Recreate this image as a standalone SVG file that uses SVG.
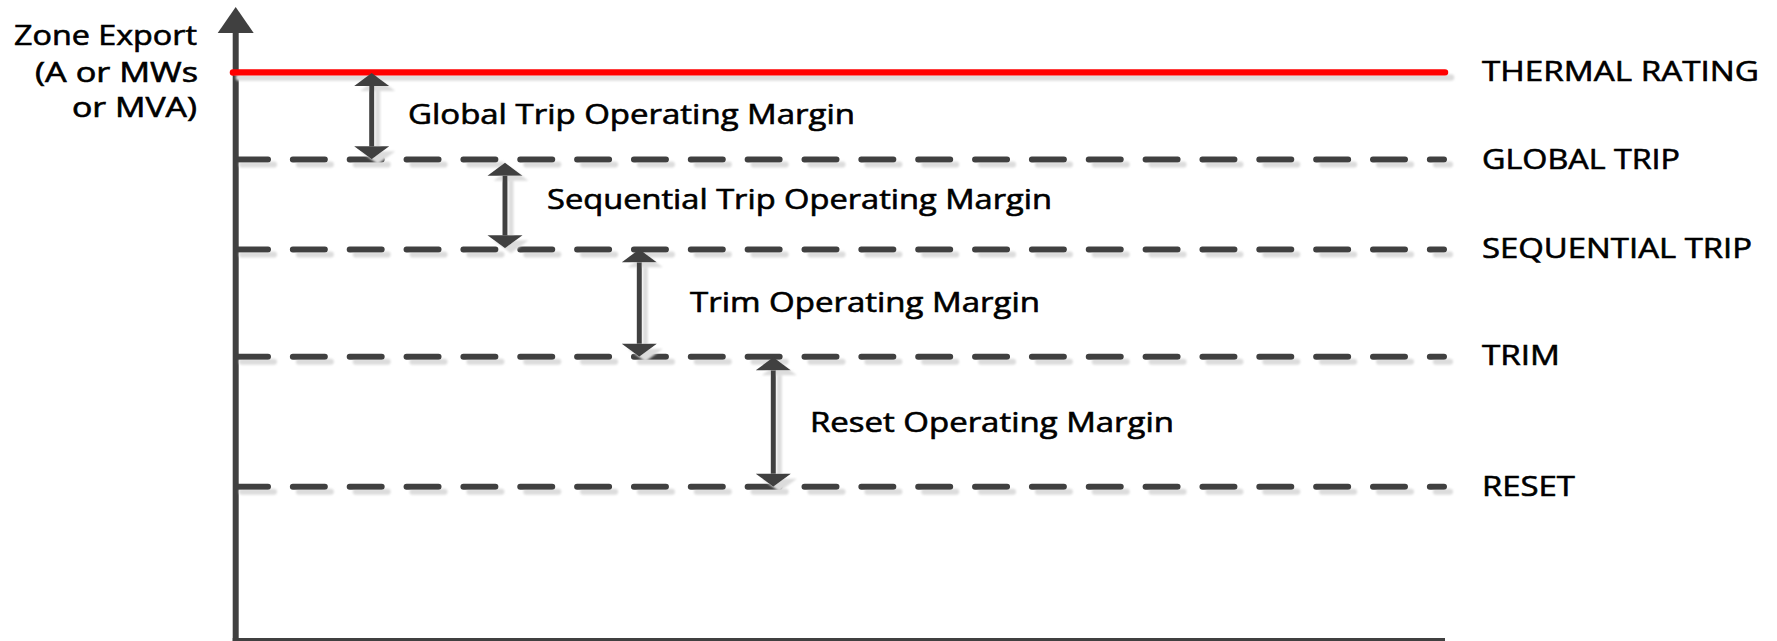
<svg xmlns="http://www.w3.org/2000/svg" width="1777" height="641" viewBox="0 0 1777 641">
  <style>
    .label { font-family: "Open Sans", "Liberation Sans", sans-serif; fill: #000; stroke: #000; stroke-width: 0.6; font-variant-ligatures: none; }
    .axis-label { font-size: 26.5px; }
    .margin-label { font-size: 26.5px; }
    .level-label { font-size: 28px; }
    .level { fill: none; stroke: #404040; stroke-width: 6; stroke-linecap: round; stroke-dasharray: 32 24.85; }
    .rating { fill: none; stroke: #ff0000; stroke-width: 6.5; stroke-linecap: round; }
    .margin { stroke: #404040; stroke-width: 5; marker-start: url(#head); marker-end: url(#head); }
    .axis { stroke: #404040; stroke-width: 6; }
  </style>
  <defs>
    <!-- soft grey drop shadow shared by levels and margin arrows -->
    <filter id="shadow" filterUnits="userSpaceOnUse" x="0" y="0" width="1777" height="641">
      <feGaussianBlur in="SourceAlpha" stdDeviation="1" result="b"/>
      <feOffset in="b" dx="6" dy="5" result="o"/>
      <feFlood flood-color="#dcdcdc"/>
      <feComposite in2="o" operator="in"/>
      <feMerge>
        <feMergeNode/>
        <feMergeNode in="SourceGraphic"/>
      </feMerge>
    </filter>
    <marker id="head" markerUnits="userSpaceOnUse" markerWidth="14" markerHeight="36" viewBox="0 -18 14 36" refX="0" refY="0" orient="auto-start-reverse" overflow="visible">
      <path d="M0,-17.5 L13,0 L0,17.5 Z" fill="#404040"/>
    </marker>
  </defs>

  <rect width="1777" height="641" fill="#ffffff"/>

  <!-- axes -->
  <g id="axes">
    <line class="axis" x1="235.7" y1="31" x2="235.7" y2="641"/>
    <path d="M235.7,7 L253.7,33 L217.7,33 Z" fill="#404040"/>
    <line class="axis" x1="232.7" y1="641" x2="1445" y2="641"/>
    <g class="label axis-label">
      <text x="14" y="45" textLength="183" lengthAdjust="spacingAndGlyphs">Zone Export</text>
      <text x="35" y="81.5" textLength="163" lengthAdjust="spacingAndGlyphs">(A or MWs</text>
      <text x="72" y="117" textLength="125" lengthAdjust="spacingAndGlyphs">or MVA)</text>
    </g>
  </g>

  <!-- threshold levels -->
  <g id="levels" filter="url(#shadow)">
    <line id="thermal-rating" class="rating" x1="233" y1="72.5" x2="1445" y2="72.5"/>
    <path id="global-trip" class="level" d="M236,159.5 H1444"/>
    <path id="sequential-trip" class="level" d="M236,249.5 H1444"/>
    <path id="trim" class="level" d="M236,356.7 H1444"/>
    <path id="reset" class="level" d="M236,486.7 H1444"/>
  </g>

  <g id="level-labels" class="label level-label">
    <text x="1482" y="81" textLength="277" lengthAdjust="spacingAndGlyphs">THERMAL RATING</text>
    <text x="1482" y="169" textLength="198" lengthAdjust="spacingAndGlyphs">GLOBAL TRIP</text>
    <text x="1482" y="257.5" textLength="270" lengthAdjust="spacingAndGlyphs">SEQUENTIAL TRIP</text>
    <text x="1482" y="365" textLength="78" lengthAdjust="spacingAndGlyphs">TRIM</text>
    <text x="1482" y="496" textLength="93" lengthAdjust="spacingAndGlyphs">RESET</text>
  </g>

  <!-- operating margin arrows -->
  <g id="connectors" filter="url(#shadow)">
    <line class="margin" x1="371.7" y1="86" x2="371.7" y2="146.3"/>
    <line class="margin" x1="505" y1="175.7" x2="505" y2="235.3"/>
    <line class="margin" x1="639.3" y1="262.3" x2="639.3" y2="343.7"/>
    <line class="margin" x1="773.3" y1="370.3" x2="773.3" y2="473.7"/>
  </g>

  <g id="global-trip-margin" class="label margin-label">
    <text x="408" y="123.5" textLength="447" lengthAdjust="spacingAndGlyphs">Global Trip Operating Margin</text>
  </g>
  <g id="sequential-trip-margin" class="label margin-label">
    <text x="547" y="209" textLength="505" lengthAdjust="spacingAndGlyphs">Sequential Trip Operating Margin</text>
  </g>
  <g id="trim-margin" class="label margin-label">
    <text x="690" y="312" textLength="350" lengthAdjust="spacingAndGlyphs">Trim Operating Margin</text>
  </g>
  <g id="reset-margin" class="label margin-label">
    <text x="810" y="432" textLength="364" lengthAdjust="spacingAndGlyphs">Reset Operating Margin</text>
  </g>
</svg>
